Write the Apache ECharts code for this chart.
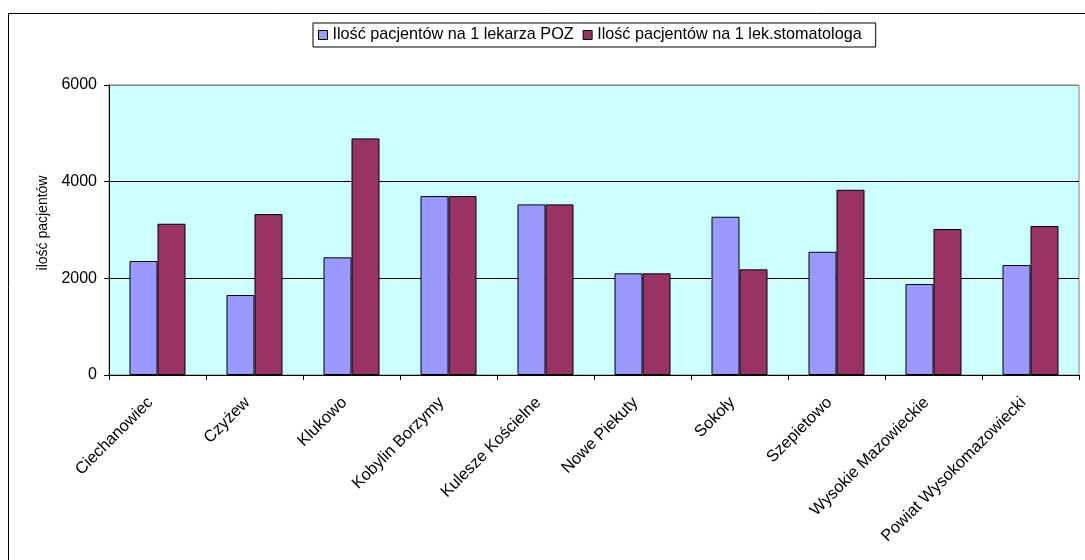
<!DOCTYPE html>
<html>
<head>
<meta charset="utf-8">
<script src="https://cdn.jsdelivr.net/npm/echarts@6/dist/echarts.min.js"></script>
<style>
html,body{margin:0;padding:0;background:#fff;}
#chart{width:1085px;height:560px;}
</style>
</head>
<body>
<div id="chart"></div>
<script>
const categories = ['Ciechanowiec','Czyżew','Klukowo','Kobylin Borzymy','Kulesze Kościelne','Nowe Piekuty','Sokoły','Szepietowo','Wysokie Mazowieckie','Powiat Wysokomazowiecki'];
const seriesNames = ['Ilość pacjentów na 1 lekarza POZ','Ilość pacjentów na 1 lek.stomatologa'];
const pozValues = [2358, 1655, 2434, 3702, 3530, 2103, 3274, 2550, 1882, 2275];
const stomValues = [3129, 3330, 4895, 3702, 3530, 2103, 2186, 3832, 3020, 3082];
const yTicks = [0, 2000, 4000, 6000];

const FONT = '"Liberation Sans", Arial, sans-serif';
const chart = echarts.init(document.getElementById('chart'), null, {renderer:'canvas'});
chart.setOption({
  animation: false,
  backgroundColor: '#fff',
  textStyle: {fontFamily: FONT, color: '#000'},
  graphic: [{
    type: 'rect', z: 100, silent: true,
    shape: {x: 8.5, y: 13.5, width: 1100, height: 600},
    style: {fill: 'none', stroke: '#000', lineWidth: 1}
  }],
  legend: {
    left: 313, top: 23,
    padding: [4, 14, 4, 5],
    borderColor: '#000', borderWidth: 1,
    itemWidth: 9, itemHeight: 9, itemGap: 9,
    icon: 'rect',
    textStyle: {fontFamily: FONT, fontSize: 16.2, color: '#000'},
    data: seriesNames.map(n => ({name: n, itemStyle: {borderColor: '#000', borderWidth: 1}}))
  },
  grid: {
    left: 109, right: 6, top: 85, bottom: 185,
    show: true, backgroundColor: '#CCFFFF', borderColor: '#808080', borderWidth: 1
  },
  xAxis: {
    type: 'category', data: categories,
    axisLine: {lineStyle: {color: '#000', width: 1}},
    axisTick: {show: true, alignWithLabel: false, length: 5, lineStyle: {color: '#000'}},
    axisLabel: {interval: 0, rotate: 45, fontSize: 16.4, fontFamily: FONT, color: '#000', margin: 18,
                padding: [0, 10, 0, 0]}
  },
  yAxis: {
    type: 'value', min: yTicks[0], max: yTicks[yTicks.length-1], interval: 2000,
    name: 'ilość pacjentów', nameLocation: 'middle', nameRotate: 90, nameGap: 58,
    nameTextStyle: {fontSize: 14, fontFamily: FONT, color: '#000', padding: [0, 0, 0, 14]},
    axisLine: {show: true, lineStyle: {color: '#000', width: 1}},
    axisTick: {show: true, length: 5, lineStyle: {color: '#000'}},
    axisLabel: {fontSize: 16, fontFamily: FONT, color: '#000', margin: 12,
                formatter: v => String(v)},
    splitLine: {show: true, lineStyle: {color: ['#000','#000','#000','#808080'], width: 1}}
  },
  series: [
    {name: seriesNames[0], type: 'bar', data: pozValues, barWidth: 28, barGap: '0%',
     itemStyle: {color: '#9999FF', borderColor: '#000', borderWidth: 1}},
    {name: seriesNames[1], type: 'bar', data: stomValues, barWidth: 28, barGap: '0%',
     itemStyle: {color: '#993366', borderColor: '#000', borderWidth: 1}}
  ]
});
</script>
</body>
</html>
